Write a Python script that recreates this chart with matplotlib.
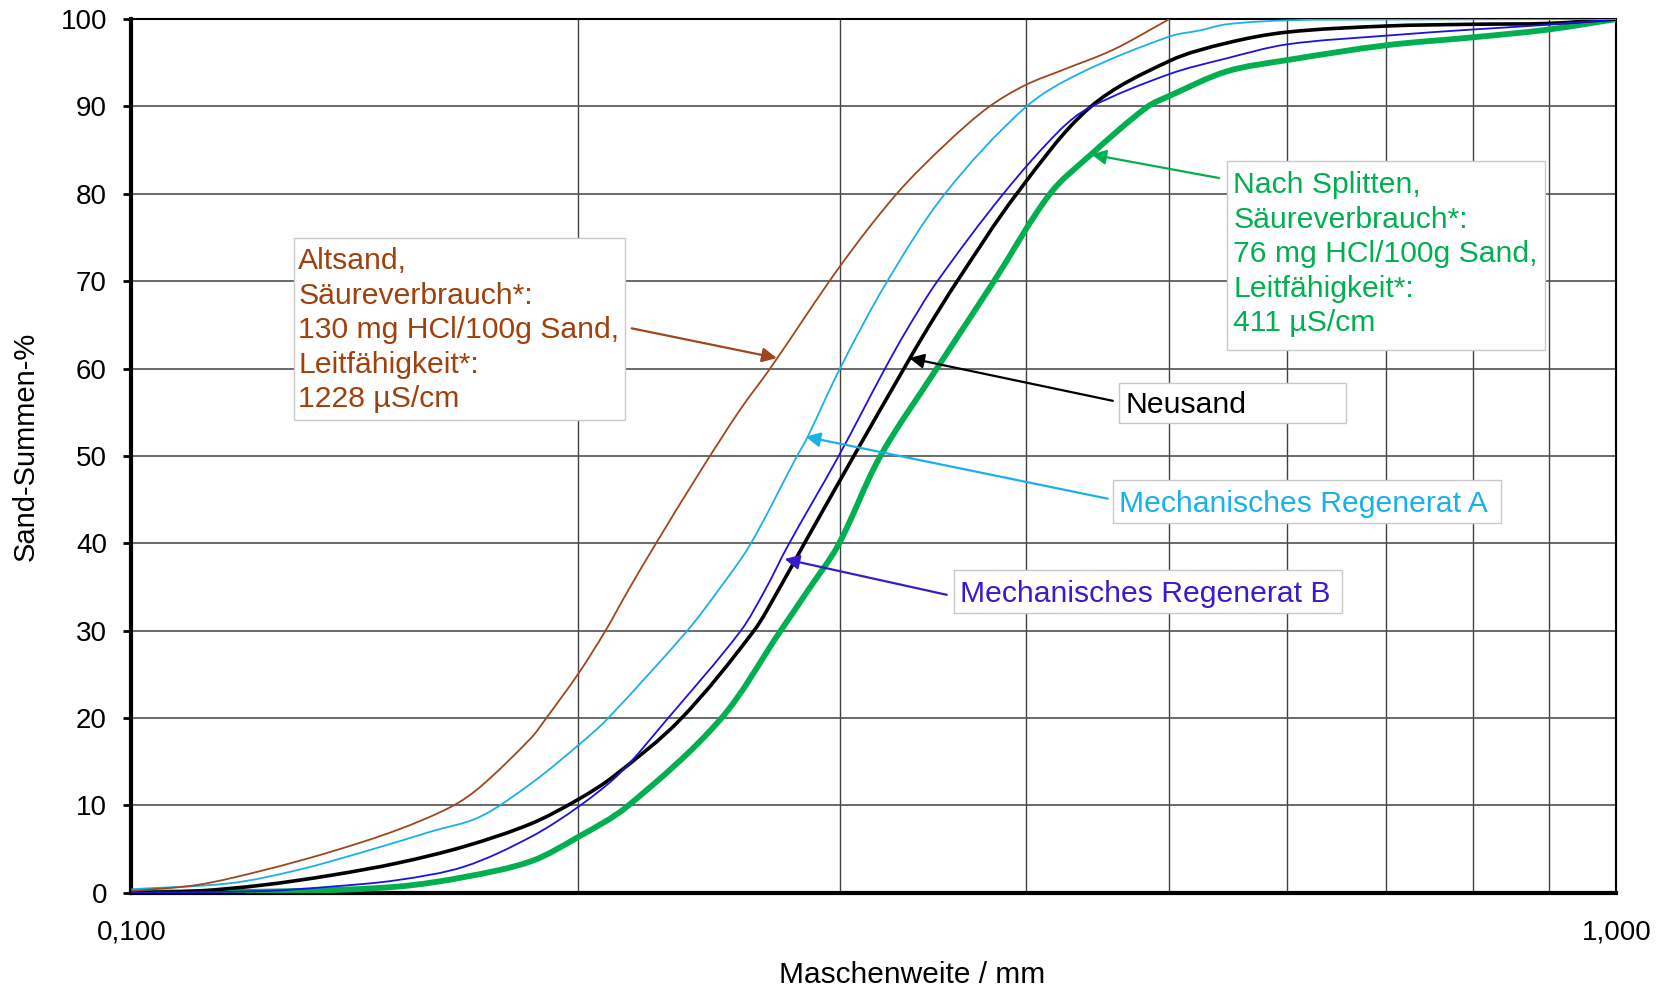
import numpy as np
import matplotlib.pyplot as plt
from matplotlib.patches import Rectangle, PathPatch
from matplotlib.path import Path
from matplotlib.ticker import FixedLocator, FixedFormatter, NullFormatter

plt.rcParams['font.family'] = ['Liberation Sans', 'DejaVu Sans']

# Sieblinien
x_alt = [0.100, 0.1108, 0.1229, 0.1363, 0.1511, 0.1642, 0.1717, 0.1858, 0.1899, 0.200, 0.2084,
         0.2161, 0.2252, 0.2415, 0.2570, 0.2692, 0.300, 0.3276, 0.354, 0.3776,
         0.400, 0.4242, 0.4584, 0.500]
y_alt = [0.2, 0.9, 2.6, 4.7, 7.2, 9.85, 12.1, 17.7, 19.8, 25.1, 29.9,
         34.65, 39.8, 48.2, 55.3, 60.0, 71.7, 80.0, 85.8, 89.9,
         92.45, 94.2, 96.5, 100.0]

x_neu = [0.100, 0.1108, 0.1229, 0.1363, 0.1511, 0.1676, 0.1858, 0.200, 0.2111, 0.2341, 0.2623,
         0.2727, 0.2835, 0.3063, 0.3313, 0.3431, 0.3595, 0.3946, 0.4421, 0.500, 0.5464, 0.600,
         0.700, 0.800, 0.900, 1.000]
y_neu = [0.0, 0.2, 0.9, 2.0, 3.4, 5.3, 7.9, 10.7, 13.3, 19.8, 29.9,
         34.65, 39.8, 49.9, 60.0, 64.4, 69.9, 80.0, 89.9, 95.2, 97.25, 98.5,
         99.2, 99.4, 99.5, 100.0]

x_regA = [0.100, 0.1167, 0.1294, 0.1435, 0.1591, 0.1717, 0.1858, 0.200, 0.2089, 0.2365,
          0.2485, 0.2609, 0.2805, 0.285, 0.300, 0.3226, 0.353, 0.400, 0.4353,
          0.500, 0.5243, 0.5464, 0.600, 0.700, 1.000]
y_regA = [0.4, 1.1, 2.6, 4.7, 7.0, 8.7, 12.5, 16.9, 19.8, 29.9,
          34.65, 39.8, 49.9, 52.0, 60.0, 69.9, 80.0, 89.9, 93.8,
          98.0, 98.7, 99.4, 99.85, 99.95, 100.0]

x_regB = [0.100, 0.1229, 0.1363, 0.1511, 0.1676, 0.1858, 0.200, 0.2133, 0.2293, 0.257,
          0.2671, 0.2769, 0.2992, 0.3217, 0.3327, 0.3486, 0.3865, 0.4220, 0.4421, 0.500, 0.5464,
          0.600, 0.700, 0.800, 0.900, 1.000]
y_regB = [0.0, 0.2, 0.7, 1.45, 3.0, 6.4, 9.85, 13.7, 19.8, 29.9,
          34.65, 39.8, 49.9, 60.0, 64.4, 69.9, 80.0, 87.3, 89.9, 93.7, 95.5,
          97.1, 98.1, 98.8, 99.35, 100.0]

x_split = [0.100, 0.1294, 0.1511, 0.1676, 0.1858, 0.200, 0.2156, 0.2491, 0.2734,
           0.2856, 0.2992, 0.3192, 0.3486, 0.3806, 0.4155, 0.4421, 0.4827, 0.500, 0.5464,
           0.600, 0.700, 0.800, 0.900, 1.000]
y_split = [0.0, 0.2, 0.7, 1.8, 3.6, 6.4, 9.85, 19.8, 29.9,
           34.65, 39.8, 49.9, 60.0, 69.9, 80.0, 84.4, 89.9, 91.2, 94.0,
           95.3, 97.0, 97.9, 98.8, 100.0]

x_ticks = [0.1, 1.0]
x_ticklabels = ['0,100', '1,000']
x_grid = [0.2, 0.3, 0.4, 0.5, 0.6, 0.7, 0.8, 0.9]
y_ticks = list(range(0, 101, 10))

c_alt = '#A0461E'
c_alt_txt = '#A0400C'
c_regA = '#1AB0E8'
c_regB = '#1E10E0'
c_regB_txt = '#3A1ACC'
c_split = '#00B050'

fs_box = 21.7

fig = plt.figure(figsize=(16.62, 9.86), dpi=100)
ax = fig.add_axes([0.0791, 0.0946, 0.8935, 0.8861])


def glatte_linie(xs, ys, color, lw, z):
    # geglättete Linie wie im Excel-Diagramm (Bezier durch die Messpunkte)
    P = np.column_stack([np.log10(xs) * 1485.0, np.asarray(ys) * 8.736])
    T = np.zeros_like(P)
    T[0] = P[1] - P[0]
    T[-1] = P[-1] - P[-2]
    T[1:-1] = P[2:] - P[:-2]
    T /= np.linalg.norm(T, axis=1)[:, None]
    verts = [P[0]]
    codes = [Path.MOVETO]
    for i in range(len(P) - 1):
        d = np.linalg.norm(P[i + 1] - P[i]) / 3
        verts += [P[i] + T[i] * d, P[i + 1] - T[i + 1] * d, P[i + 1]]
        codes += [Path.CURVE4] * 3
    verts = np.array(verts)
    verts = np.column_stack([10 ** (verts[:, 0] / 1485.0), verts[:, 1] / 8.736])
    ax.add_patch(PathPatch(Path(verts, codes), facecolor='none', edgecolor=color,
                           lw=lw, zorder=z))


glatte_linie(x_split, y_split, c_split, 4.2, 3)
glatte_linie(x_neu, y_neu, 'black', 2.6, 4)
glatte_linie(x_regB, y_regB, c_regB, 1.3, 4)
glatte_linie(x_regA, y_regA, c_regA, 1.3, 4)
glatte_linie(x_alt, y_alt, c_alt, 1.3, 4)

ax.set_xscale('log')
ax.set_xlim(0.1, 1.0)
ax.set_ylim(0, 100)
ax.xaxis.set_major_locator(FixedLocator(x_ticks))
ax.xaxis.set_major_formatter(FixedFormatter(x_ticklabels))
ax.xaxis.set_minor_locator(FixedLocator(x_grid))
ax.xaxis.set_minor_formatter(NullFormatter())
ax.set_yticks(y_ticks)

ax.grid(True, which='both', axis='x', color='#404040', lw=1.0, zorder=1)
ax.grid(True, which='major', axis='y', color='#505050', lw=1.2, zorder=1)
ax.set_axisbelow(True)

ax.tick_params(axis='x', which='both', length=0, pad=19, labelsize=20)
ax.tick_params(axis='y', length=5.5, width=2, pad=12.2, labelsize=20, direction='out')

for s in ['left', 'bottom']:
    ax.spines[s].set_linewidth(3.0)
for s in ['top', 'right']:
    ax.spines[s].set_linewidth(1.5)

ax.set_xlabel('Maschenweite / mm', fontsize=21.5)
ax.xaxis.set_label_coords(0.526, -0.078)
ax.set_ylabel('Sand-Summen-%', fontsize=21)
ax.yaxis.set_label_coords(-0.062, 0.511)

# Beschriftungskästen
def box(x0, y0, x1, y1):
    ax.add_patch(Rectangle((x0, y0), x1 - x0, y1 - y0, transform=ax.transAxes,
                           facecolor='white', edgecolor='#C8C8C8', lw=1.0, zorder=5))

def pfeil(start, end, color):
    ax.annotate('', xy=end, xytext=start,
                arrowprops=dict(arrowstyle='-|>', color=color, lw=1.6,
                                mutation_scale=22, shrinkA=0, shrinkB=0), zorder=6)

box(0.1095, 0.541, 0.3324, 0.749)
ax.text(0.1124, 0.739, 'Altsand,\nSäureverbrauch*:\n130 mg HCl/100g Sand,\nLeitfähigkeit*:\n1228 µS/cm',
        transform=ax.transAxes, ha='left', va='top', fontsize=fs_box, color=c_alt_txt,
        linespacing=1.3, zorder=6)
pfeil((0.2172, 64.6), (0.272, 61.2), c_alt)

box(0.738, 0.6214, 0.952, 0.8374)
ax.text(0.742, 0.826, 'Nach Splitten,\nSäureverbrauch*:\n76 mg HCl/100g Sand,\nLeitfähigkeit*:\n411 µS/cm',
        transform=ax.transAxes, ha='left', va='top', fontsize=fs_box, color=c_split,
        linespacing=1.3, zorder=6)
pfeil((0.54, 81.8), (0.443, 84.5), c_split)

box(0.665, 0.5376, 0.818, 0.5837)
ax.text(0.6695, 0.5577, 'Neusand', transform=ax.transAxes, ha='left', va='center',
        fontsize=fs_box, color='black', zorder=6)
pfeil((0.458, 56.3), (0.334, 61.2), 'black')

box(0.661, 0.4235, 0.922, 0.4721)
ax.text(0.665, 0.4448, 'Mechanisches Regenerat A', transform=ax.transAxes, ha='left', va='center',
        fontsize=fs_box, color=c_regA, zorder=6)
pfeil((0.4544, 45.1), (0.2844, 52.2), c_regA)

box(0.554, 0.320, 0.815, 0.369)
ax.text(0.558, 0.3417, 'Mechanisches Regenerat B', transform=ax.transAxes, ha='left', va='center',
        fontsize=fs_box, color=c_regB_txt, zorder=6)
pfeil((0.354, 34.1), (0.2753, 38.2), c_regB_txt)

fig.savefig('out.png', dpi=100)
